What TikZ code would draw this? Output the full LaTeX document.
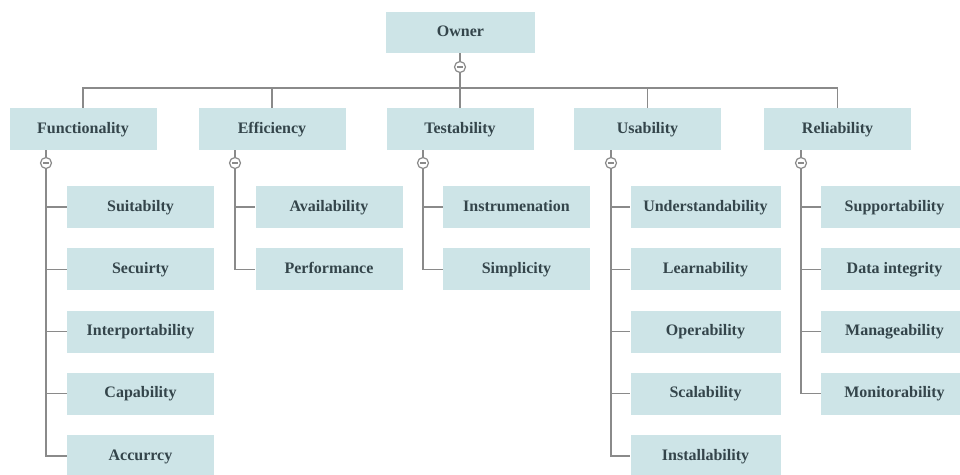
\documentclass[tikz,border=0pt]{standalone}
\usepackage{fontspec}
\setmainfont{Liberation Serif}
\usepackage{xcolor}
\usepackage{tikz}
\usetikzlibrary{positioning}

\definecolor{boxfill}{HTML}{CDE4E7}
\definecolor{linegray}{HTML}{8A8A8A}
\definecolor{txtgray}{HTML}{34454B}

\tikzset{
  item/.style={fill=boxfill, minimum width=147pt, minimum height=42pt, inner sep=0pt,
    text height=10pt, text depth=2pt,
    text=txtgray, font=\fontsize{16}{18}\selectfont\bfseries},
  link/.style={draw=linegray, line width=1.3pt},
  fold/.style={circle, draw=linegray, line width=1.2pt, fill=white, minimum size=11pt,
    inner sep=0pt, path picture={\draw[linegray, line width=1.3pt]
      ([xshift=-2.8pt]path picture bounding box.center) --
      ([xshift=2.8pt]path picture bounding box.center);}}
}

\begin{document}
\begin{tikzpicture}[x=1pt, y=-1pt]
\useasboundingbox (0,0) rectangle (960,474);

% root
\node[item, minimum width=149pt, minimum height=41pt] (own) at (460.5,32.5) {Owner};
\node[fold] (own fold) at (460,67) {};
\coordinate (bar) at (460,88);

% first level
\node[item] (fun) at (83,129) {Functionality};
\node[item] (eff) at (272,129) {Efficiency};
\node[item] (tes) at (460,129) {Testability};
\node[item] (usa) at (647.5,129) {Usability};
\node[item] (rel) at (837.5,129) {Reliability};

\draw[link] (own fold.north |- own.south) -- (own fold.north);
\draw[link] (own fold.south) -- (tes.north);
\draw[link] (fun.north) |- (rel.north |- bar) -- (rel.north);
\draw[link] (eff.north) -- (eff.north |- bar);
\draw[link] (usa.north) -- (usa.north |- bar);

% Functionality
\node[item] (fun1) at (140.5,207) {Suitabilty};
\node[item] (fun2) at (140.5,269.25) {Secuirty};
\node[item] (fun3) at (140.5,331.5) {Interportability};
\node[item] (fun4) at (140.5,393.75) {Capability};
\node[item] (fun5) at (140.5,456) {Accurrcy};
\node[fold] (fun fold) at (46,163) {};
\draw[link] (fun fold.north |- fun.south) -- (fun fold.north);
\draw[link] (fun fold.south) |- (fun5.west);
\foreach \k in {1,...,4}
  \draw[link] (fun fold.south |- fun\k.west) -- (fun\k.west);

% Efficiency
\node[item] (eff1) at (329,207) {Availability};
\node[item] (eff2) at (329,269.25) {Performance};
\node[fold] (eff fold) at (235,163) {};
\draw[link] (eff fold.north |- eff.south) -- (eff fold.north);
\draw[link] (eff fold.south) |- (eff2.west);
\draw[link] (eff fold.south |- eff1.west) -- (eff1.west);

% Testability
\node[item] (tes1) at (516.5,207) {Instrumenation};
\node[item] (tes2) at (516.5,269.25) {Simplicity};
\node[fold] (tes fold) at (423,163) {};
\draw[link] (tes fold.north |- tes.south) -- (tes fold.north);
\draw[link] (tes fold.south) |- (tes2.west);
\draw[link] (tes fold.south |- tes1.west) -- (tes1.west);

% Usability
\node[item, minimum width=150pt] (usa1) at (705.5,207) {Understandability};
\node[item, minimum width=150pt] (usa2) at (705.5,269.25) {Learnability};
\node[item, minimum width=150pt] (usa3) at (705.5,331.5) {Operability};
\node[item, minimum width=150pt] (usa4) at (705.5,393.75) {Scalability};
\node[item, minimum width=150pt] (usa5) at (705.5,456) {Installability};
\node[fold] (usa fold) at (611,163) {};
\draw[link] (usa fold.north |- usa.south) -- (usa fold.north);
\draw[link] (usa fold.south) |- (usa5.west);
\foreach \k in {1,...,4}
  \draw[link] (usa fold.south |- usa\k.west) -- (usa\k.west);

% Reliability
\node[item] (rel1) at (894.5,207) {Supportability};
\node[item] (rel2) at (894.5,269.25) {Data integrity};
\node[item] (rel3) at (894.5,331.5) {Manageability};
\node[item] (rel4) at (894.5,393.75) {Monitorability};
\node[fold] (rel fold) at (801,163) {};
\draw[link] (rel fold.north |- rel.south) -- (rel fold.north);
\draw[link] (rel fold.south) |- (rel4.west);
\foreach \k in {1,...,3}
  \draw[link] (rel fold.south |- rel\k.west) -- (rel\k.west);
\end{tikzpicture}
\end{document}
